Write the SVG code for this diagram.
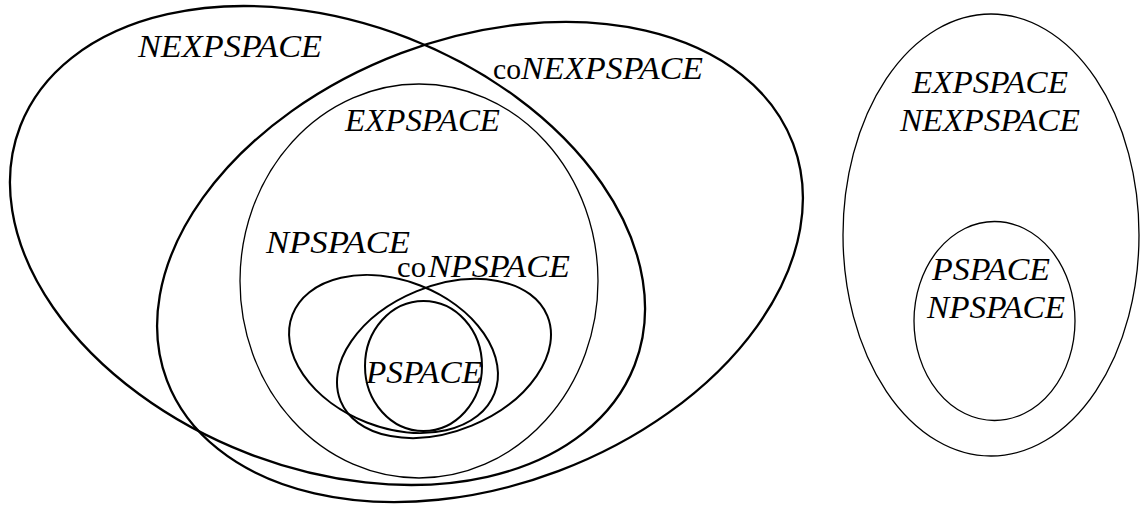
<svg xmlns="http://www.w3.org/2000/svg" width="1143" height="507" viewBox="0 0 1143 507">
<style>
.thick{fill:none;stroke:#000;stroke-width:2.3}
.mid{fill:none;stroke:#000;stroke-width:2}
.thin{fill:none;stroke:#000;stroke-width:1.3}
.cal{font-family:"Liberation Serif","Times New Roman",serif;font-style:italic;font-size:32px;fill:#000}
.co{font-family:"Liberation Serif","Times New Roman",serif;font-style:normal;font-size:30px;fill:#000}
</style>
<rect width="1143" height="507" fill="#fff"/>
<g id="nexpspace">
<ellipse class="thick" cx="327.5" cy="245.5" rx="329.6" ry="222.6" transform="rotate(21.3 327.5 245.5)"/>
<text class="cal" x="138" y="57" textLength="184" lengthAdjust="spacingAndGlyphs">NEXPSPACE</text>
</g>
<g id="conexpspace">
<ellipse class="thick" cx="480" cy="262" rx="334.7" ry="223.3" transform="rotate(-20.7 480 262)"/>
<text class="co" x="493" y="79" textLength="28" lengthAdjust="spacingAndGlyphs">co</text>
<text class="cal" x="521" y="79" textLength="182" lengthAdjust="spacingAndGlyphs">NEXPSPACE</text>
</g>
<g id="expspace">
<ellipse class="thin" cx="419" cy="281" rx="179" ry="197"/>
<text class="cal" x="345" y="131" textLength="155" lengthAdjust="spacingAndGlyphs">EXPSPACE</text>
</g>
<g id="npspace">
<ellipse class="mid" cx="393.5" cy="354" rx="108.4" ry="73.5" transform="rotate(21.3 393.5 354)"/>
<text class="cal" x="266" y="253" textLength="144" lengthAdjust="spacingAndGlyphs">NPSPACE</text>
</g>
<g id="conpspace">
<ellipse class="mid" cx="444" cy="358.5" rx="111.8" ry="72.6" transform="rotate(-22.4 444 358.5)"/>
<text class="co" x="397" y="277" textLength="29" lengthAdjust="spacingAndGlyphs">co</text>
<text class="cal" x="428" y="277" textLength="142" lengthAdjust="spacingAndGlyphs">NPSPACE</text>
</g>
<g id="pspace">
<ellipse class="mid" cx="423.5" cy="366" rx="58.5" ry="65"/>
<text class="cal" x="366" y="383" textLength="116" lengthAdjust="spacingAndGlyphs">PSPACE</text>
</g>
<g id="expspace-nexpspace">
<ellipse class="thin" cx="991" cy="235" rx="148" ry="221"/>
<text class="cal" x="912" y="93" textLength="156" lengthAdjust="spacingAndGlyphs">EXPSPACE</text>
<text class="cal" x="900" y="131" textLength="180" lengthAdjust="spacingAndGlyphs">NEXPSPACE</text>
</g>
<g id="pspace-npspace">
<ellipse class="thin" cx="994.5" cy="321" rx="80.5" ry="99.5"/>
<text class="cal" x="932" y="280" textLength="118" lengthAdjust="spacingAndGlyphs">PSPACE</text>
<text class="cal" x="927" y="318" textLength="138" lengthAdjust="spacingAndGlyphs">NPSPACE</text>
</g>
<g id="connectors"/>
</svg>
